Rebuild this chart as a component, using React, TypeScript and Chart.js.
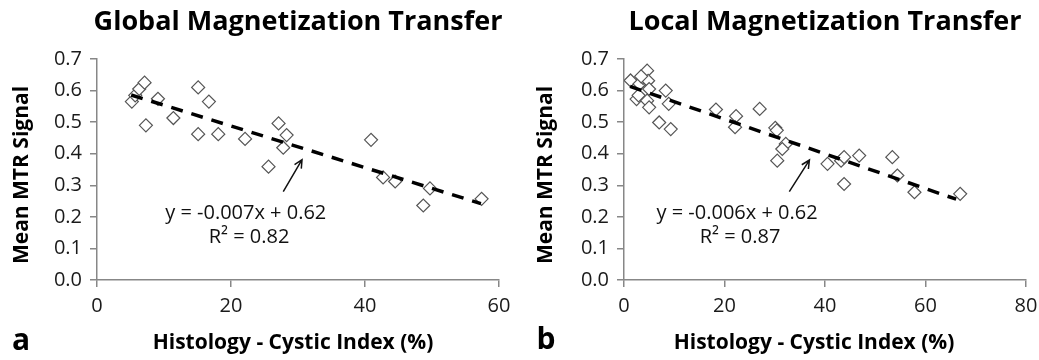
import React, { useEffect, useRef } from 'react';
import { Chart, registerables } from 'chart.js';

Chart.register(...registerables);

// ---------- data ----------
const globalCysticIndex = [5.2, 5.7, 6.3, 7.1, 7.3, 9.1, 11.4, 15.1, 16.7, 15.1, 18.1, 22.1, 27.1, 28.3, 27.8, 25.6, 40.9, 42.7, 44.5, 49.7, 48.7, 57.4];
const globalMTR = [0.565, 0.585, 0.605, 0.625, 0.490, 0.574, 0.513, 0.610, 0.565, 0.462, 0.462, 0.447, 0.496, 0.459, 0.419, 0.359, 0.444, 0.325, 0.312, 0.290, 0.236, 0.257];
const globalTrendX = [5.1, 57.3];
const globalTrendY = [0.586, 0.242];

const localCysticIndex = [1.3, 2.5, 2.9, 3.1, 3.8, 4.6, 4.8, 5.0, 4.6, 5.0, 3.4, 8.3, 8.9, 7.0, 9.3, 18.3, 22.3, 22.1, 27.0, 30.1, 30.4, 32.2, 31.5, 30.5, 40.5, 43.2, 43.8, 46.8, 43.8, 53.4, 54.4, 57.8, 66.9];
const localMTR = [0.632, 0.573, 0.585, 0.621, 0.640, 0.663, 0.631, 0.605, 0.568, 0.547, 0.645, 0.600, 0.558, 0.499, 0.478, 0.540, 0.519, 0.484, 0.542, 0.482, 0.474, 0.431, 0.415, 0.378, 0.368, 0.378, 0.389, 0.394, 0.304, 0.389, 0.331, 0.278, 0.273];
const localTrendX = [1.2, 66.1];
const localTrendY = [0.613, 0.256];

const yTickValues = [0, 0.1, 0.2, 0.3, 0.4, 0.5, 0.6, 0.7];
const globalXTickValues = [0, 20, 40, 60];
const localXTickValues = [0, 20, 40, 60, 80];

const panelTitles = ['Global Magnetization Transfer', 'Local Magnetization Transfer'];
const panelLetters = ['a', 'b'];
const yAxisTitle = 'Mean MTR Signal';
const xAxisTitle = 'Histology - Cystic Index (%)';
const equations = ['y = -0.007x + 0.62', 'y = -0.006x + 0.62'];
const rSquared = ['R\u00B2 = 0.82', 'R\u00B2 = 0.87'];

const FONT = '"Open Sans", sans-serif';
const AXIS_GREY = '#878787';

const textPlugin = {
  id: 'panelText',
  afterDraw(chart: any, _args: any, o: any) {
    const { ctx } = chart;
    const xs = chart.scales.x;
    const ys = chart.scales.y;
    ctx.save();
    ctx.fillStyle = '#000';
    ctx.textAlign = 'center';
    ctx.textBaseline = 'middle';

    ctx.font = `bold 27px ${FONT}`;
    ctx.fillText(o.title, o.titleX, o.titleY);

    ctx.font = `bold 21px ${FONT}`;
    ctx.fillText(xAxisTitle, o.xTitleX, o.xTitleY);

    ctx.save();
    ctx.translate(o.yTitleX, o.yTitleY);
    ctx.rotate(-Math.PI / 2);
    ctx.font = `bold 21px ${FONT}`;
    ctx.fillText(yAxisTitle, 0, 0);
    ctx.restore();

    ctx.font = `bold 30px ${FONT}`;
    ctx.fillText(o.letter, o.letterX, o.letterY);

    ctx.font = `20px ${FONT}`;
    ctx.fillStyle = '#111';
    ctx.fillText(o.eq, xs.getPixelForValue(o.eqPos[0]), ys.getPixelForValue(o.eqPos[1]));
    ctx.fillText(o.r2, xs.getPixelForValue(o.r2Pos[0]), ys.getPixelForValue(o.r2Pos[1]));

    // arrow
    const tx = xs.getPixelForValue(o.arrow[0]);
    const ty = ys.getPixelForValue(o.arrow[1]);
    const hx = xs.getPixelForValue(o.arrow[2]);
    const hy = ys.getPixelForValue(o.arrow[3]);
    const ang = Math.atan2(hy - ty, hx - tx);
    ctx.strokeStyle = '#111';
    ctx.lineWidth = 1.5;
    ctx.beginPath();
    ctx.moveTo(tx, ty);
    ctx.lineTo(hx, hy);
    const L = 9;
    ctx.moveTo(hx - L * Math.cos(ang - 0.45), hy - L * Math.sin(ang - 0.45));
    ctx.lineTo(hx, hy);
    ctx.lineTo(hx - L * Math.cos(ang + 0.45), hy - L * Math.sin(ang + 0.45));
    ctx.stroke();
    ctx.restore();
  },
};

type PanelProps = {
  width: number;
  yAxisWidth: number;
  padRight: number;
  xs: number[];
  ys: number[];
  trendX: number[];
  trendY: number[];
  xMax: number;
  xTicks: number[];
  text: any;
};

function Panel(p: PanelProps) {
  const ref = useRef<HTMLCanvasElement>(null);
  useEffect(() => {
    const pts = p.xs.map((x, i) => ({ x, y: p.ys[i] }));
    const trend = p.trendX.map((x, i) => ({ x, y: p.trendY[i] }));
    const chart = new Chart(ref.current as HTMLCanvasElement, {
      type: 'scatter',
      data: {
        datasets: [
          {
            data: trend,
            showLine: true,
            borderColor: '#000',
            borderWidth: 3.5,
            borderDash: [12, 9],
            pointRadius: 0,
            order: 0,
          } as any,
          {
            data: pts,
            pointStyle: 'rectRot',
            pointRadius: 6.5,
            pointBorderWidth: 1.2,
            pointBorderColor: '#555',
            pointBackgroundColor: '#fff',
            order: 1,
          } as any,
        ],
      },
      options: {
        responsive: false,
        animation: false,
        devicePixelRatio: 1,
        layout: { padding: { top: 59, left: 0, right: p.padRight, bottom: 0 } },
        plugins: {
          legend: { display: false },
          tooltip: { enabled: false },
          panelText: p.text,
        } as any,
        scales: {
          x: {
            type: 'linear',
            min: 0,
            max: p.xMax,
            afterBuildTicks: (s: any) => {
              s.ticks = p.xTicks.map((v) => ({ value: v }));
            },
            afterFit: (s: any) => {
              s.height = 80;
              s.paddingLeft = 0;
              s.paddingRight = 0;
            },
            ticks: {
              color: '#1a1a1a',
              font: { family: FONT, size: 20 },
              padding: 7,
              maxRotation: 0,
              autoSkip: false,
            },
            grid: { drawOnChartArea: false, drawTicks: true, tickLength: 7, color: AXIS_GREY, lineWidth: 1.5 },
            border: { display: true, color: AXIS_GREY, width: 1.5 },
          },
          y: {
            type: 'linear',
            min: 0,
            max: 0.7,
            afterBuildTicks: (s: any) => {
              s.ticks = yTickValues.map((v) => ({ value: v }));
            },
            afterFit: (s: any) => {
              s.width = p.yAxisWidth;
              s.paddingTop = 0;
              s.paddingBottom = 0;
            },
            ticks: {
              color: '#1a1a1a',
              font: { family: FONT, size: 20 },
              padding: 8,
              autoSkip: false,
              callback: (v: any) => Number(v).toFixed(1),
            },
            grid: { drawOnChartArea: false, drawTicks: true, tickLength: 7, color: AXIS_GREY, lineWidth: 1.5 },
            border: { display: true, color: AXIS_GREY, width: 1.5 },
          },
        },
      } as any,
      plugins: [textPlugin],
    });
    return () => chart.destroy();
  }, []);
  return <canvas ref={ref} width={p.width} height={360} style={{ display: 'block', width: p.width, height: 360 }} />;
}

export default function App() {
  return (
    <div style={{ position: 'absolute', left: 0, top: 0, width: 1039, height: 360, display: 'flex', background: '#fff' }}>
      <Panel
        width={519}
        yAxisWidth={97}
        padRight={20}
        xs={globalCysticIndex}
        ys={globalMTR}
        trendX={globalTrendX}
        trendY={globalTrendY}
        xMax={60}
        xTicks={globalXTickValues}
        text={{
          title: panelTitles[0],
          titleX: 298,
          titleY: 22,
          letter: panelLetters[0],
          letterX: 21,
          letterY: 341,
          xTitleX: 293,
          xTitleY: 343,
          yTitleX: 22,
          yTitleY: 175,
          eq: equations[0],
          r2: rSquared[0],
          eqPos: [22.2, 0.21],
          r2Pos: [22.7, 0.134],
          arrow: [27.8, 0.28, 30.6, 0.381],
        }}
      />
      <Panel
        width={520}
        yAxisWidth={105}
        padRight={13}
        xs={localCysticIndex}
        ys={localMTR}
        trendX={localTrendX}
        trendY={localTrendY}
        xMax={80}
        xTicks={localXTickValues}
        text={{
          title: panelTitles[1],
          titleX: 306,
          titleY: 22,
          letter: panelLetters[1],
          letterX: 27,
          letterY: 340,
          xTitleX: 295,
          xTitleY: 343,
          yTitleX: 27,
          yTitleY: 175,
          eq: equations[1],
          r2: rSquared[1],
          eqPos: [22.5, 0.21],
          r2Pos: [23.1, 0.134],
          arrow: [32.9, 0.28, 36.9, 0.38],
        }}
      />
    </div>
  );
}
